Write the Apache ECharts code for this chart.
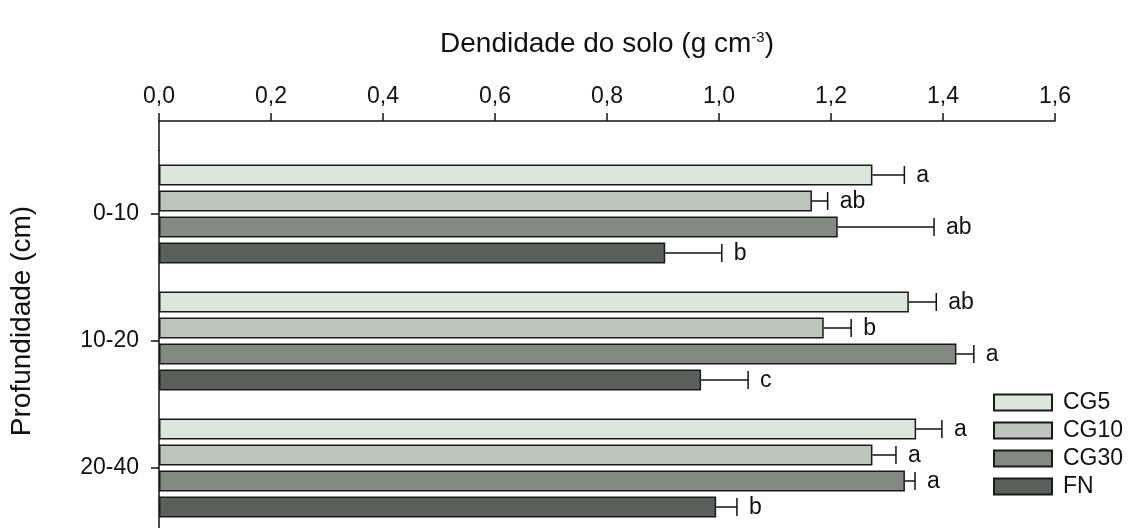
<!DOCTYPE html>
<html>
<head>
<meta charset="utf-8">
<script src="https://cdn.jsdelivr.net/npm/echarts@6/dist/echarts.min.js"></script>
<style>
html,body{margin:0;padding:0;background:#fff;}
#c{width:1134px;height:528px;}
</style>
</head>
<body>
<div id="c"></div>
<script>
const categories = ['0-10', '10-20', '20-40'];
const seriesNames = ['CG5', 'CG10', 'CG30', 'FN'];
const cg5 = [1.274, 1.339, 1.352];
const cg5Err = [0.057, 0.049, 0.046];
const cg5Letters = ['a', 'ab', 'a'];
const cg10 = [1.166, 1.187, 1.274];
const cg10Err = [0.028, 0.049, 0.042];
const cg10Letters = ['ab', 'b', 'a'];
const cg30 = [1.212, 1.424, 1.332];
const cg30Err = [0.172, 0.031, 0.018];
const cg30Letters = ['ab', 'a', 'a'];
const fn = [0.904, 0.968, 0.995];
const fnErr = [0.101, 0.084, 0.037];
const fnLetters = ['b', 'c', 'b'];
const xTicks = [0, 0.2, 0.4, 0.6, 0.8, 1.0, 1.2, 1.4, 1.6];

const colors = ['#dbe7da', '#bec5bd', '#838a82', '#5a605b'];
const means = [cg5, cg10, cg30, fn];
const errs = [cg5Err, cg10Err, cg30Err, fnErr];
const letters = [cg5Letters, cg10Letters, cg30Letters, fnLetters];

const BAR_W = 21, BAR_GAP = 5;
const PITCH = BAR_W + BAR_GAP;
const FONT = '"Liberation Sans", Arial, sans-serif';

const chart = echarts.init(document.getElementById('c'), null, {renderer: 'canvas'});

const series = [];
seriesNames.forEach((name, k) => {
  series.push({
    name: name,
    type: 'bar',
    data: means[k],
    barWidth: BAR_W,
    barGap: (BAR_GAP / BAR_W * 100) + '%',
    itemStyle: {color: colors[k], borderColor: '#1a1a1a', borderWidth: 1.5},
    emphasis: {disabled: true},
    animation: false
  });
});
seriesNames.forEach((name, k) => {
  series.push({
    type: 'custom',
    z: 5,
    animation: false,
    silent: true,
    encode: {x: 1, y: 0},
    data: categories.map((c, i) => [i, means[k][i], errs[k][i]]),
    renderItem: function (params, api) {
      const ci = api.value(0), m = api.value(1), e = api.value(2);
      const p0 = api.coord([m, ci]);
      const p1 = api.coord([m + e, ci]);
      const y = p0[1] + (k - 1.5) * PITCH;
      const half = 9;
      return {
        type: 'group',
        children: [
          {type: 'line', shape: {x1: p0[0], y1: y, x2: p1[0], y2: y}, style: {stroke: '#111', lineWidth: 1.5}},
          {type: 'line', shape: {x1: p1[0], y1: y - half, x2: p1[0], y2: y + half}, style: {stroke: '#111', lineWidth: 1.5}},
          {type: 'text', x: p1[0] + 12, y: y + 1, style: {text: letters[k][params.dataIndex], fill: '#111', font: '23px ' + FONT, verticalAlign: 'middle', align: 'left'}}
        ]
      };
    }
  });
});

const option = {
  backgroundColor: '#fff',
  animation: false,
  textStyle: {fontFamily: FONT},
  grid: {left: 159, right: 79, top: 150.5, bottom: -3.5, containLabel: false, outerBoundsMode: 'none'},
  legend: {
    type: 'plain',
    data: seriesNames,
    orient: 'vertical',
    left: 993,
    top: 391,
    padding: 0,
    itemWidth: 58,
    itemHeight: 16,
    itemGap: 5,
    icon: 'rect',
    textStyle: {fontSize: 23, color: '#111', fontFamily: FONT, padding: [0, 0, 0, 6]},
    selectedMode: false
  },
  xAxis: {
    type: 'value',
    position: 'top',
    offset: 29.5,
    min: 0,
    max: 1.6,
    interval: 0.2,
    name: 'Dendidade do solo (g cm{sup|-3})',
    nameLocation: 'middle',
    nameGap: 62,
    nameTextStyle: {
      fontSize: 28, color: '#111', fontFamily: FONT,
      rich: {sup: {fontSize: 15, verticalAlign: 'top', padding: [0, 0, 14, 0], color: '#111', fontFamily: FONT}}
    },
    axisLine: {show: true, lineStyle: {color: '#111', width: 1.5}},
    axisTick: {show: true, inside: false, length: 8, lineStyle: {color: '#111', width: 1.5}},
    axisLabel: {
      fontSize: 23, color: '#111', margin: 13, fontFamily: FONT,
      formatter: v => v.toFixed(1).replace('.', ',')
    },
    splitLine: {show: false}
  },
  yAxis: {
    type: 'category',
    data: categories,
    inverse: true,
    name: 'Profundidade (cm)',
    nameLocation: 'middle',
    nameRotate: 90,
    nameGap: 123,
    nameTextStyle: {fontSize: 28, color: '#111', fontFamily: FONT, padding: [0, 0, 0, 40]},
    axisLine: {show: true, lineStyle: {color: '#111', width: 1.5}},
    axisTick: {show: true, alignWithLabel: true, length: 8, lineStyle: {color: '#111', width: 1.5}},
    axisLabel: {fontSize: 23, color: '#111', margin: 20, fontFamily: FONT},
    splitLine: {show: false}
  },
  graphic: [
    {type: 'line', shape: {x1: 159, y1: 121, x2: 159, y2: 151}, style: {stroke: '#111', lineWidth: 1.5}, silent: true}
  ],
  series: series
};
chart.setOption(option);
</script>
</body>
</html>
